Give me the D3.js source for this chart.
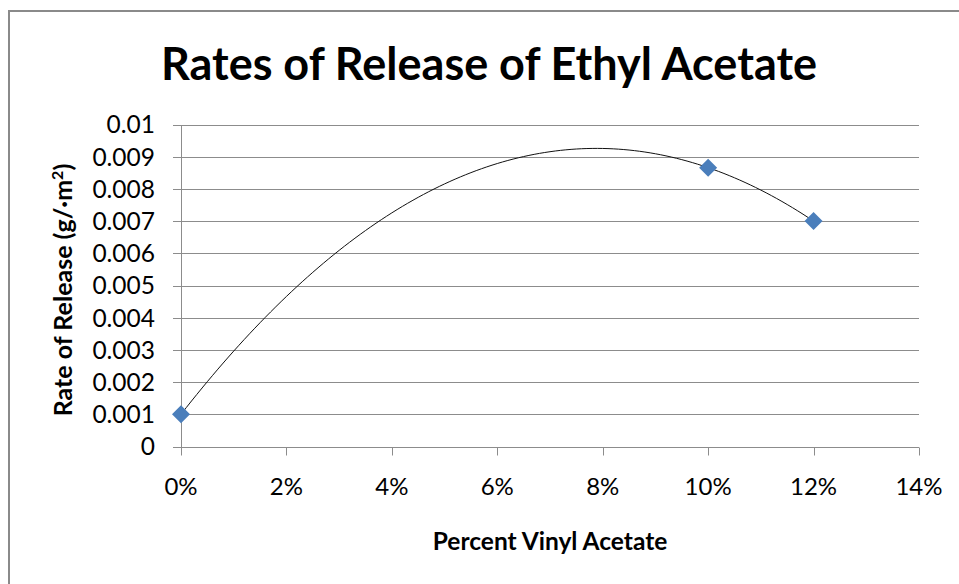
<!DOCTYPE html>
<html>
<head>
<meta charset="utf-8">
<script src="https://cdn.jsdelivr.net/npm/d3@7"></script>
<style>
  html, body { margin: 0; padding: 0; background: #fff; }
  svg { display: block; }
  text { font-family: Lato, "Open Sans", sans-serif; fill: #000; }
</style>
</head>
<body>
<svg id="chart" width="959" height="584"></svg>
<script>
// Measured release rates by vinyl acetate content
const percentVinyl = [0, 0.10, 0.12];
const releaseRate = [0.001, 0.00866, 0.007];

const xTicks = [0, 0.02, 0.04, 0.06, 0.08, 0.10, 0.12, 0.14];
const yTicks = [0, 0.001, 0.002, 0.003, 0.004, 0.005, 0.006, 0.007, 0.008, 0.009, 0.01];
const yTickLabels = ["0", "0.001", "0.002", "0.003", "0.004", "0.005", "0.006", "0.007", "0.008", "0.009", "0.01"];

const titleText = "Rates of Release of Ethyl Acetate";
const xTitle = "Percent Vinyl Acetate";

const svg = d3.select("#chart");

// chart frame (only top and left edges fall inside the view)
svg.append("path")
  .attr("d", "M9,584 L9,11 L959,11")
  .attr("fill", "none")
  .attr("stroke", "#8a8a8a")
  .attr("stroke-width", 2);

const x = d3.scaleLinear().domain([0, 0.14]).range([181, 919]);
const y = d3.scaleLinear().domain([0, 0.01]).range([446.5, 124.5]);

const gridColor = "#8c8c8c";

// horizontal gridlines, extending left as tick marks
svg.append("g").selectAll("line")
  .data(yTicks)
  .join("line")
  .attr("x1", 173).attr("x2", x(0.14))
  .attr("y1", d => Math.round(y(d)) + 0.5)
  .attr("y2", d => Math.round(y(d)) + 0.5)
  .attr("stroke", gridColor)
  .attr("stroke-width", 1);

// vertical axis line
svg.append("line")
  .attr("x1", Math.round(x(0)) + 0.5).attr("x2", Math.round(x(0)) + 0.5)
  .attr("y1", Math.round(y(0.01)) + 0.5).attr("y2", Math.round(y(0)) + 0.5)
  .attr("stroke", gridColor);

// x axis tick marks
svg.append("g").selectAll("line")
  .data(xTicks)
  .join("line")
  .attr("x1", d => Math.round(x(d)) + 0.5)
  .attr("x2", d => Math.round(x(d)) + 0.5)
  .attr("y1", Math.round(y(0)) + 0.5)
  .attr("y2", Math.round(y(0)) + 8.5)
  .attr("stroke", gridColor);

// y tick labels
svg.append("g").selectAll("text")
  .data(yTicks)
  .join("text")
  .attr("x", 155)
  .attr("y", d => y(d))
  .attr("dy", "0.36em")
  .attr("text-anchor", "end")
  .attr("font-size", 24.5)
  .attr("fill", "#2a2a2a")
  .text((d, i) => yTickLabels[i]);

// x tick labels
const pct = d3.format(".0%");
svg.append("g").selectAll("text")
  .data(xTicks)
  .join("text")
  .attr("x", d => x(d))
  .attr("y", 495)
  .attr("text-anchor", "middle")
  .attr("font-size", 24)
  .attr("fill", "#2a2a2a")
  .text(d => pct(d));

// title
svg.append("text")
  .attr("x", 489)
  .attr("y", 80)
  .attr("text-anchor", "middle")
  .attr("font-size", 45)
  .attr("font-weight", "bold")
  .text(titleText);

// x axis title
svg.append("text")
  .attr("x", 550)
  .attr("y", 550)
  .attr("text-anchor", "middle")
  .attr("font-size", 24.5)
  .attr("font-weight", "bold")
  .text(xTitle);

// y axis title with superscript
const yT = svg.append("text")
  .attr("transform", "translate(72,290) rotate(-90)")
  .attr("text-anchor", "middle")
  .attr("font-size", 25)
  .attr("font-weight", "bold");
yT.append("tspan").text("Rate of Release (g/\u00b7m");
yT.append("tspan").attr("font-size", 16).attr("dy", -9).text("2");
yT.append("tspan").attr("dy", 9).text(")");

// second-order polynomial trendline fitted to the measurements (least squares)
function quadFit(xs, ys) {
  const n = xs.length;
  let s = [0, 0, 0, 0, 0], t = [0, 0, 0];
  for (let i = 0; i < n; i++) {
    for (let k = 0; k < 5; k++) s[k] += Math.pow(xs[i], k);
    for (let k = 0; k < 3; k++) t[k] += ys[i] * Math.pow(xs[i], k);
  }
  // solve [[s0 s1 s2][s1 s2 s3][s2 s3 s4]] * [c b a] = t
  const M = [[s[0], s[1], s[2], t[0]], [s[1], s[2], s[3], t[1]], [s[2], s[3], s[4], t[2]]];
  for (let c = 0; c < 3; c++) {
    let p = c;
    for (let r = c + 1; r < 3; r++) if (Math.abs(M[r][c]) > Math.abs(M[p][c])) p = r;
    [M[c], M[p]] = [M[p], M[c]];
    for (let r = 0; r < 3; r++) {
      if (r === c) continue;
      const f = M[r][c] / M[c][c];
      for (let k = c; k < 4; k++) M[r][k] -= f * M[c][k];
    }
  }
  const coef = [M[0][3] / M[0][0], M[1][3] / M[1][1], M[2][3] / M[2][2]];
  return v => coef[0] + coef[1] * v + coef[2] * v * v;
}
const trend = quadFit(percentVinyl, releaseRate);
const xMin = d3.min(percentVinyl), xMax = d3.max(percentVinyl);
const trendPts = d3.range(0, 121).map(i => {
  const v = xMin + (xMax - xMin) * i / 120;
  return [v, trend(v)];
});
svg.append("path")
  .datum(trendPts)
  .attr("fill", "none")
  .attr("stroke", "#111")
  .attr("stroke-width", 1)
  .attr("d", d3.line().x(d => x(d[0])).y(d => y(d[1])));

// markers: rotated squares (diamonds)
svg.append("g").selectAll("path")
  .data(percentVinyl.map((v, i) => [v, releaseRate[i]]))
  .join("path")
  .attr("transform", d => `translate(${x(d[0])},${y(d[1])}) rotate(45)`)
  .attr("d", d3.symbol().type(d3.symbolSquare).size(162))
  .attr("fill", "#4a7ebb");
</script>
</body>
</html>
